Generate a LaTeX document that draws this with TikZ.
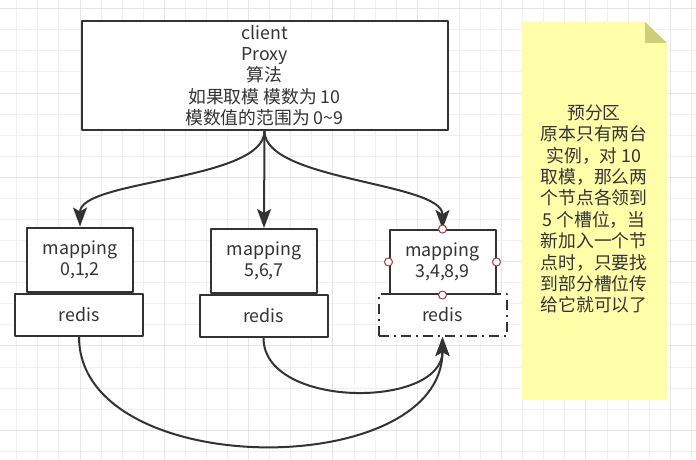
\documentclass[tikz,border=0pt]{standalone}
\usepackage{fontspec}
\setmainfont{Noto Sans CJK SC}
\usetikzlibrary{arrows.meta,calc}
\definecolor{ink}{HTML}{333333}
\definecolor{gridlo}{RGB}{241,241,241}
\definecolor{gridhi}{RGB}{230,230,230}
\definecolor{notey}{RGB}{255,255,170}
\definecolor{notefold}{RGB}{205,205,122}
\definecolor{portred}{HTML}{A33B3B}

\begin{document}
\begin{tikzpicture}[x=1pt,y=-1pt,line join=round,line width=2pt,
  txt/.style={text=ink,align=center,inner sep=0pt,font=\fontsize{17.8}{21.4}\selectfont},
  box/.style={txt,draw=ink,fill=white},
  mapbox/.style={box,minimum width=106pt,minimum height=64pt},
  redisbox/.style={box,minimum width=128pt,minimum height=42pt},
  dashdot/.style={dash pattern=on 10pt off 5pt on 2pt off 5pt},
  link/.style={draw=ink,-{Stealth[length=19pt,width=14pt,inset=4pt]}},
  port/.style={draw=portred,fill=white,line width=1pt}]
\useasboundingbox (0,0) rectangle (696,460);
% grid
\foreach \i in {-4,...,30}{\draw[gridlo,line width=1pt](80+\i*21.08,0)--(80+\i*21.08,460);}
\foreach \j in {0,...,21}{\draw[gridlo,line width=1pt](0,8.7+\j*21.08)--(696,8.7+\j*21.08);}
\foreach \i in {-1,...,7}{\draw[gridhi,line width=1pt](80+\i*84.32,0)--(80+\i*84.32,460);}
\foreach \j in {0,...,5}{\draw[gridhi,line width=1pt](0,8.7+\j*84.32)--(696,8.7+\j*84.32);}
% note
\fill[notey](522,22)--(645,22)--(667,43)--(667,400)--(522,400)--cycle;
\fill[notefold](645,22)--(667,43)--(645,43)--cycle;
\node[txt] (note) at (594,209) {预分区\\原本只有两台\\实例，对 10\\取模，那么两\\个节点各领到\\5 个槽位，当\\新加入一个节\\点时，只要找\\到部分槽位传\\给它就可以了};
% boxes
\node[box,minimum width=366pt,minimum height=109pt] (proxy) at (264.5,75.5) {client\\Proxy\\算法\\如果取模 模数为 10\\模数值的范围为 0\textasciitilde 9};
\node[redisbox] (r1) at (79,314.5) {redis};
\node[redisbox] (r2) at (263.5,316) {redis};
\node[redisbox,dashdot] (r3) at (442.5,315) {redis};
\node[mapbox] (m1) at (80,259.5) {mapping\\0,1,2};
\node[mapbox] (m2) at (264,261) {mapping\\5,6,7};
\node[mapbox] (m3) at (442.5,262) {mapping\\3,4,8,9};
% links
\draw[link](proxy.south)..controls +(0,50) and +(0,-47)..(m1.north);
\draw[link](proxy.south)--(m2.north);
\draw[link](proxy.south)..controls +(0,50) and +(0,-47)..(m3.north);
\draw[link](r1.south)..controls +(0,145) and +(0,145)..(r3.south);
\draw[link](r2.south)..controls +(0,71) and +(0,72)..(r3.south);
\foreach \p in {north,west,east,south}{\draw[port](m3.\p) circle (4pt);}
\end{tikzpicture}
\end{document}
